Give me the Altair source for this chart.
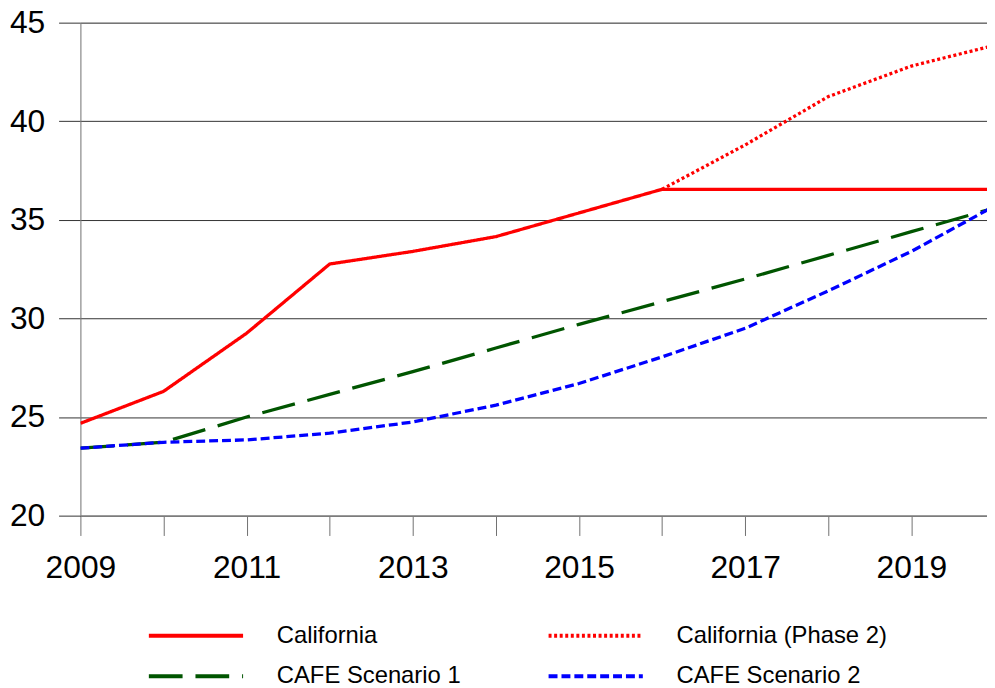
import altair as alt
import pandas as pd

# ---- data ----
series_names = ["California", "California (Phase 2)", "CAFE Scenario 1", "CAFE Scenario 2"]

years = [2009, 2010, 2011, 2012, 2013, 2014, 2015, 2016, 2017, 2018, 2019, 2020]
california = [24.68, 26.3, 29.25, 32.76, 33.4, 34.15, 35.35, 36.55, 36.55, 36.55, 36.55, 36.55]

phase2_years = [2016, 2017, 2018, 2019, 2020]
california_phase2 = [36.55, 38.8, 41.25, 42.8, 43.85]

cafe1 = [23.42, 23.72, 25.0, 26.15, 27.3, 28.5, 29.7, 30.85, 32.0, 33.2, 34.4, 35.6]
cafe2 = [23.42, 23.72, 23.84, 24.18, 24.75, 25.6, 26.7, 28.05, 29.5, 31.4, 33.4, 35.7]

y_ticks = [20, 25, 30, 35, 40, 45]
x_ticks = list(range(2009, 2020))

rows = []
for yr, v in zip(years, california):
    rows.append({"year": yr, "value": v, "series": series_names[0]})
for yr, v in zip(phase2_years, california_phase2):
    rows.append({"year": yr, "value": v, "series": series_names[1]})
for yr, v in zip(years, cafe1):
    rows.append({"year": yr, "value": v, "series": series_names[2]})
for yr, v in zip(years, cafe2):
    rows.append({"year": yr, "value": v, "series": series_names[3]})
df = pd.DataFrame(rows)

FONT = "Liberation Sans"

legend = alt.Legend(title=None, orient="none", legendX=67, legendY=603,
                    direction="horizontal", columns=2, columnPadding=86, rowPadding=11,
                    clipHeight=30, symbolSize=9025, symbolType="stroke",
                    symbolStrokeWidth=4, labelOffset=32,
                    labelFontSize=24, labelFont=FONT, labelColor="black",
                    labelLimit=400, padding=0)

chart = alt.Chart(df).mark_line(clip=True, strokeCap="butt", strokeJoin="miter",
                                strokeWidth=3.3).encode(
    x=alt.X("year:Q",
            scale=alt.Scale(domain=[2009, 2019.91], nice=False, zero=False),
            axis=alt.Axis(values=x_ticks, format="d",
                          labelExpr="datum.value % 2 == 1 ? datum.label : ''",
                          title=None, grid=False, tickSize=20, tickColor="#707070",
                          domainColor="#808080", labelFontSize=32, labelFont=FONT,
                          labelColor="black", labelPadding=17, labelFlush=False,
                          labelOverlap=False, labelBaseline="top")),
    y=alt.Y("value:Q",
            scale=alt.Scale(domain=[20, 45], nice=False, zero=False),
            axis=alt.Axis(values=y_ticks, title=None, grid=True, gridColor="#333333",
                          gridWidth=1, tickSize=22, tickColor="#333333",
                          domainColor="#808080", labelFontSize=32, labelFont=FONT,
                          labelColor="black", labelPadding=14, labelOverlap=False)),
    color=alt.Color("series:N",
                    scale=alt.Scale(domain=series_names,
                                    range=["#ff0000", "#ff0000", "#005500", "#0000ff"]),
                    legend=legend),
    strokeDash=alt.StrokeDash("series:N",
                              scale=alt.Scale(domain=series_names,
                                              range=[[1, 0], [3, 2.6], [34, 13], [9, 4]]),
                              legend=legend),
).properties(
    width=914,
    height=497,
    autosize=alt.AutoSizeParams(type="none"),
    padding={"left": 73, "top": 12, "right": 0, "bottom": 171},
).configure_view(stroke=None).configure(background="white")

chart.save("out.html", embed_options={"renderer": "svg", "actions": False})
